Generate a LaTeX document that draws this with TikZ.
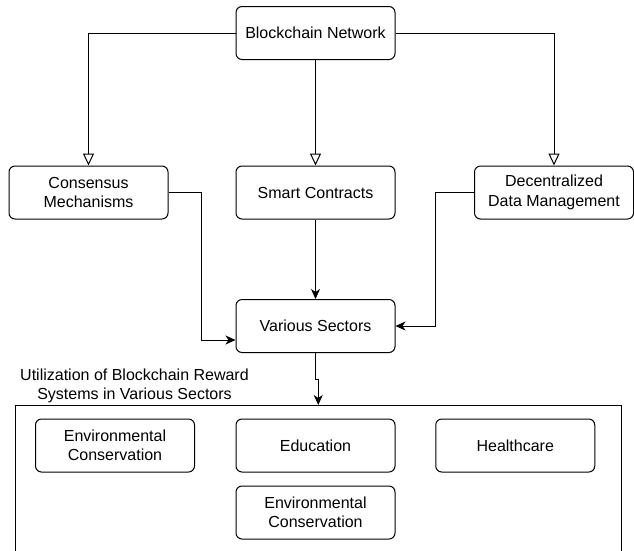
\documentclass[tikz,border=0pt]{standalone}
\usepackage{fontspec}
\setmainfont{Liberation Sans}
\usetikzlibrary{arrows.meta,positioning}
\tikzset{
  box/.style={draw, line width=1pt, rounded corners=6pt, minimum width=159pt, minimum height=53pt, align=center, inner sep=2pt, font=\fontsize{16}{19.5}\selectfont},
  openarr/.style={draw, line width=1pt, -{Triangle[open,length=12pt,width=11pt]}},
  arr/.style={draw, line width=1pt, -{Stealth[length=10pt,width=9pt,inset=3pt]}},
  lbl/.style={align=center, font=\fontsize{16}{19.5}\selectfont, inner sep=0pt}
}
\begin{document}
\begin{tikzpicture}[x=1pt,y=-1pt]
\clip (0,0) rectangle (634,550);
\fill[white] (0,0) rectangle (634,550);
\node[box] (bn) at (315.5,33) {Blockchain Network};
\node[box] (cm) at (88.5,192.5) {Consensus\\Mechanisms};
\node[box] (sc) at (315.5,192.5) {Smart Contracts};
\node[box] (ddm) at (554,192.5) {Decentralized\\Data Management};
\node[box] (vs) at (315.5,326) {Various Sectors};
\node[draw, line width=1pt, minimum width=606.5pt, minimum height=170pt, anchor=north, inner sep=0pt] (cont) at (318.25,405) {};
\node[lbl] (title) at (134.5,386) {Utilization of Blockchain Reward\\Systems in Various Sectors};
\node[box] (ec1) at (115,445.5) {Environmental\\Conservation};
\node[box] (ed) at (315.5,445.5) {Education};
\node[box] (hc) at (515.25,445.5) {Healthcare};
\node[box] (ec2) at (315.5,512.5) {Environmental\\Conservation};
\draw[openarr] (bn.west) -| (cm.north);
\draw[openarr] (bn.south) -- (sc.north);
\draw[openarr] (bn.east) -| (ddm.north);
\draw[arr] (cm.east) -- (201,192.5) |- ([yshift=-14pt]vs.west);
\draw[arr] (sc.south) -- (vs.north);
\draw[arr] (ddm.west) -- (435.5,192.5) |- (vs.east);
\draw[arr] (vs.south) -- ++(0,26) -| (cont.north);
\end{tikzpicture}
\end{document}
